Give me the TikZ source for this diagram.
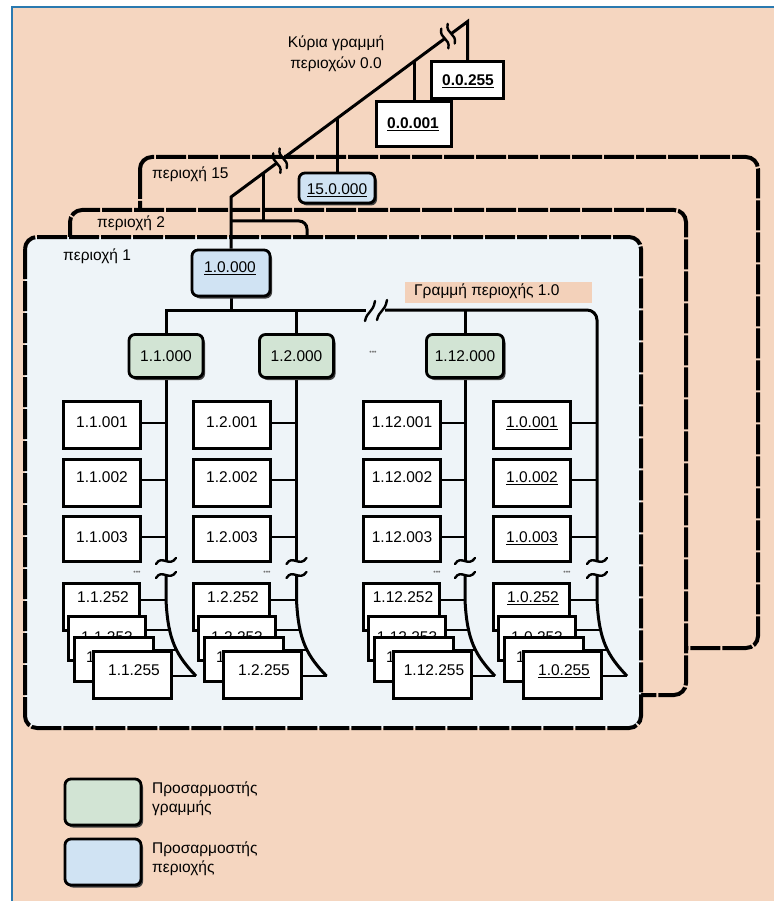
\documentclass[tikz,border=0pt]{standalone}
\usepackage{fontspec}
\setmainfont{Liberation Sans}
\usetikzlibrary{shadows}
\definecolor{peach}{RGB}{245,214,192}
\definecolor{lblpeach}{RGB}{243,209,186}
\definecolor{areaone}{RGB}{238,244,248}
\definecolor{cgreen}{RGB}{210,228,212}
\definecolor{cblue}{RGB}{208,227,243}
\definecolor{frameblue}{RGB}{42,122,176}
\pgfdeclarelayer{areas}
\pgfdeclarelayer{lines}
\pgfsetlayers{areas,lines,main}
\newcommand\ulx[1]{\setbox0=\hbox{#1}\rlap{\rule[-2.6pt]{\wd0}{1.3pt}}\box0}
\newcommand\brkv[2]{\draw[brk,shift={(#1,#2)}] (-10,2) .. controls (-4,-8) and (3,6) .. (10,-4);}
\newcommand\brkh[2]{\draw[brk,shift={(#1,#2)}] (-5,10) .. controls (-3,0) and (3,2) .. (5,-10);}
\newcommand\brkd[2]{\draw[brk,shift={(#1,#2)}] (-3.53,-9.83) .. controls (-5.8,0.57) and (5.8,-0.57) .. (3.53,9.83);}
% #1 x0, #2 bus x, #3 prefix, #4 id, #5 formatter
\newcommand\devcol[5]{%
\node[dev, minimum width=77pt, minimum height=47pt] (#4a) at (#1,400) {};
\node[devtext] (#4at) at (#1+40,427.5) {#5{#3001}};
\node[dev, minimum width=77pt, minimum height=47pt] (#4b) at (#1,458) {};
\node[devtext] (#4bt) at (#1+40,482.5) {#5{#3002}};
\node[dev, minimum width=77pt, minimum height=45pt] (#4c) at (#1,515) {};
\node[devtext] (#4ct) at (#1+40,542.5) {#5{#3003}};
\node[elli] (#4dots) at (#1+75,573) {•••};
\node[dev, minimum width=76pt, minimum height=47pt] (#4d) at (#1,582) {};
\node[devtext] (#4dt) at (#1+41,602.5) {#5{#3252}};
\node[dev, minimum width=77pt, minimum height=44pt] (#4e) at (#1+5,615) {};
\node[devtext] (#4et) at (#1+45,642.5) {#5{#3253}};
\node[dev, minimum width=79pt, minimum height=44pt] (#4f) at (#1+11,636) {};
\node[lbl] (#4ft) at (#1+24,662.5) {1};
\node[dev, minimum width=78pt, minimum height=47pt] (#4g) at (#1+30,650) {};
\node[devtext] (#4gt) at (#1+72,675.5) {#5{#3255}};
\coordinate (#4top) at (#2,562);
\coordinate (#4low) at (#2,576);
\coordinate (#4fan) at (#2,600);
\coordinate (#4end) at (#2+30,676);
\begin{pgfonlayer}{lines}
\draw[stub] (#4a.north east) ++(0,23) -- (#2,423);
\draw[stub] (#4b.north east) ++(0,22) -- (#2,480);
\draw[stub] (#4c.north east) ++(0,22) -- (#2,537);
\draw[stub] (#4d.north east) ++(0,18) -- (#4fan);
\draw[stub] (#4e.north east) ++(0,15) -- (#2+4,630);
\draw[stub] (#4f.north east) ++(0,14) -- (#2+11,650);
\draw[stub] (#4g.north east) ++(0,26) -- (#4end);
\draw[bus] (#4low) -- (#4fan) .. controls (#2+2,640) and (#2+10,655) .. (#4end);
\brkv{#2}{562}
\brkv{#2}{576}
\end{pgfonlayer}
}
\begin{document}
\begin{tikzpicture}[x=1pt,y=-1pt,
  font=\fontsize{15.5}{18.6}\selectfont,
  area/.style={line width=4pt, dash pattern=on 30pt off 2pt, rounded corners=12pt},
  bus/.style={line width=3pt},
  stub/.style={line width=2.6pt},
  brk/.style={line width=2.4pt, line cap=round},
  dev/.style={draw, fill=white, line width=3pt, inner sep=0pt, anchor=north west},
  devtext/.style={anchor=base, inner sep=0pt},
  coupler/.style={draw, line width=2.8pt, rounded corners=6pt, inner sep=0pt,
     drop shadow={shadow xshift=2pt, shadow yshift=-2.5pt, fill=black!75, opacity=1}},
  elli/.style={font=\fontsize{7}{7}\selectfont, text=black!55, inner sep=0pt},
  lbl/.style={anchor=base west, inner sep=0pt},
  ctext/.style={anchor=base, inner sep=0pt}]
\useasboundingbox (0,0) rectangle (774,901);
\begin{pgfonlayer}{areas}
\fill[white] (0,0) rectangle (774,901);
\fill[peach] (12,7) rectangle (774,901);
\draw[frameblue, line width=2.5pt] (774,7) -- (12,7) -- (12,901);
\draw[area, fill=peach] (140,157) rectangle (758,648);
\draw[area, fill=peach] (70,210) rectangle (686,695);
\draw[area, fill=areaone] (25,237) rectangle (641,728);
\end{pgfonlayer}

% device columns
\devcol{62}{166}{1.1.}{p}{\mbox}
\devcol{192}{296.5}{1.2.}{q}{\mbox}
\devcol{362}{465}{1.12.}{r}{\mbox}
\devcol{492}{597}{1.0.}{s}{\ulx}

% couplers
\node[coupler, fill=cgreen, minimum width=74pt, minimum height=43pt] (c11) at (166,356) {1.1.000};
\node[coupler, fill=cgreen, minimum width=74pt, minimum height=43pt] (c12) at (296.5,356) {1.2.000};
\node[coupler, fill=cgreen, minimum width=77pt, minimum height=43pt] (c112) at (465,356) {1.12.000};
\node[elli] (mdots) at (373,353) {•••};
\node[coupler, fill=cblue, minimum width=78pt, minimum height=46pt] (c10) at (231,273) {};
\node[ctext] (c10t) at (230,272.5) {\ulx{1.0.000}};
\node[coupler, fill=cblue, minimum width=76pt, minimum height=30pt] (c150) at (337,188) {};
\node[ctext] (c150t) at (337,194.5) {\ulx{15.0.000}};

% backbone devices
\node[dev, anchor=center, minimum width=72pt, minimum height=37pt] (c255) at (467.5,80) {};
\node[ctext] (c255t) at (468,85.5) {\textbf{\ulx{0.0.255}}};
\node[dev, anchor=center, minimum width=75pt, minimum height=45pt] (c001) at (414,124) {};
\node[ctext] (c001t) at (413,128.5) {\textbf{\ulx{0.0.001}}};

% labels
\node[ctext] (tl1) at (336,48) {Κύρια γραμμή};
\node[ctext] (tl2) at (336,69) {περιοχών 0.0};
\node[lbl] (a15) at (152,179) {περιοχή 15};
\node[lbl] (a2) at (97,227) {περιοχή 2};
\node[lbl] (a1) at (63,260) {περιοχή 1};
\node[fill=lblpeach, minimum width=187pt, minimum height=21pt, inner sep=0pt, anchor=north west] (lblbg) at (405,282) {};
\node[lbl] (lbl10) at (414,295) {Γραμμή περιοχής 1.0};

% legend
\node[coupler, fill=cgreen, minimum width=76pt, minimum height=46pt] (lg) at (103,802) {};
\node[lbl] (lgt1) at (152,793) {Προσαρμοστής};
\node[lbl] (lgt2) at (152,812) {γραμμής};
\node[coupler, fill=cblue, minimum width=76pt, minimum height=46pt] (lb) at (103,862) {};
\node[lbl] (lbt1) at (152,853) {Προσαρμοστής};
\node[lbl] (lbt2) at (152,872) {περιοχής};

% connectors
\coordinate (dstart) at (231,197);
\coordinate (dend) at (467.5,21.6);
\coordinate (b0a) at (276.8,163.1);
\coordinate (b0b) at (283.2,158.3);
\coordinate (b1a) at (444.8,38.5);
\coordinate (b1b) at (451.2,33.7);
\coordinate (jb) at (263,173.3);
\coordinate (jbt) at (263,221);
\coordinate (bk1) at (231,221);
\coordinate (bk2) at (307,237);
\coordinate (j150) at (337,118.4);
\coordinate (j001) at (414,61.3);
\coordinate (hl1) at (366,310);
\coordinate (hl2) at (385,310);
\coordinate (hlc) at (597,310);
\begin{pgfonlayer}{lines}
\draw[bus] (c10.north) -- (dstart) -- (b0a);
\draw[bus] (b0b) -- (b1a);
\draw[bus] (b1b) -- (dend) -- (c255.north);
\brkd{276.8}{163.1}
\brkd{283.2}{158.3}
\brkd{444.8}{38.5}
\brkd{451.2}{33.7}
\draw[bus] (jb) -- (jbt);
\draw[bus, rounded corners=8pt] (bk1) -- (307,221) -- (bk2);
\draw[bus] (j150) -- (c150.north);
\draw[bus] (j001) -- (c001.north);
\draw[bus] (c11.north) |- (hl1);
\draw[bus] (c12.north) -- (c12.north |- hl1);
\draw[bus] (c10.south) -- (c10.south |- hl1);
\draw[bus] (c112.north) -- (c112.north |- hl1);
\draw[bus, rounded corners=10pt] (hl2) -- (hlc) -- (stop);
\brkh{370}{311}
\brkh{382}{310}
\draw[bus] (c11.south) -- (ptop);
\draw[bus] (c12.south) -- (qtop);
\draw[bus] (c112.south) -- (rtop);
\end{pgfonlayer}
\end{tikzpicture}
\end{document}
